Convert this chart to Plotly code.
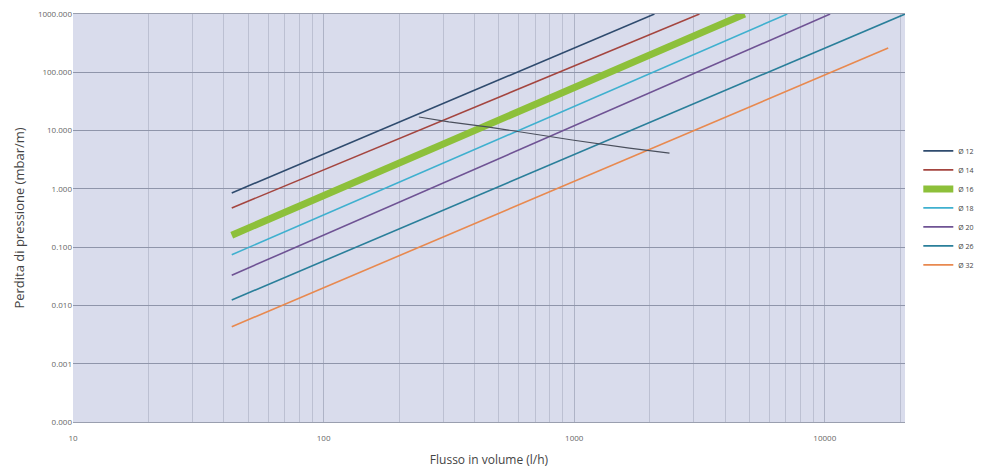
import plotly.graph_objects as go

# ---- data ----
series_names = ["Ø 12", "Ø 14", "Ø 16", "Ø 18", "Ø 20", "Ø 26", "Ø 32"]
flow_12 = [43, 2090]
loss_12 = [0.85, 1000]
flow_14 = [43, 3160]
loss_14 = [0.47, 1000]
flow_16 = [43, 4790]
loss_16 = [0.16, 1000]
flow_18 = [43, 7080]
loss_18 = [0.074, 1000]
flow_20 = [43, 10500]
loss_20 = [0.033, 1000]
flow_26 = [43, 20900]
loss_26 = [0.0124, 1000]
flow_32 = [43, 17900]
loss_32 = [0.0043, 261]

velocity_label = "1 m/s"
velocity_flow = [240, 316, 457, 643, 982, 1660, 2400]
velocity_loss = [17.1, 14.1, 11.5, 9.1, 6.9, 5.0, 4.1]

y_tick_values = [1000, 100, 10, 1, 0.1, 0.01, 0.001, 0.0001]
y_tick_labels = ["1000.000", "100.000", "10.000", "1.000", "0.100", "0.010", "0.001", "0.000"]
x_tick_values = [10, 100, 1000, 10000]
x_tick_labels = ["10", "100", "1000", "10000"]

flows = [flow_12, flow_14, flow_16, flow_18, flow_20, flow_26, flow_32]
losses = [loss_12, loss_14, loss_16, loss_18, loss_20, loss_26, loss_32]
colors = ["#2f4b6e", "#a4453f", "#8dc03a", "#3fb0cf", "#6f5394", "#2a7f9a", "#e8894f"]
widths = [1.6, 1.6, 7, 1.6, 1.6, 1.6, 1.6]

fig = go.Figure()
for name, fx, ly, c, w in zip(series_names, flows, losses, colors, widths):
    fig.add_trace(go.Scatter(x=fx, y=ly, mode="lines", name=name,
                             line=dict(color=c, width=w)))

fig.add_trace(go.Scatter(x=velocity_flow, y=velocity_loss, mode="lines",
                         line=dict(color="#4a4f5c", width=1.2), showlegend=False,
                         hoverinfo="skip"))
fig.add_annotation(x=velocity_flow[0], y=velocity_loss[0], text=velocity_label,
                   showarrow=False, xanchor="right", yanchor="bottom",
                   xshift=-2, yshift=-2, font=dict(size=7, color="#333333"))

fig.update_layout(
    width=982, height=473,
    margin=dict(l=65, r=85, t=6, b=59, autoexpand=False),
    paper_bgcolor="white",
    plot_bgcolor="#d9dcec",
    font=dict(family="Open Sans, Arial, sans-serif", color="#444444"),
    showlegend=True,
    legend=dict(x=1.016, y=0.70, xanchor="left", yanchor="top",
                font=dict(size=7, color="#444444"), tracegroupgap=0,
                itemwidth=30, bgcolor="rgba(0,0,0,0)"),
)
fig.update_xaxes(type="log", range=[1, 4.32],
                 tickvals=x_tick_values, ticktext=x_tick_labels,
                 tickfont=dict(size=8, color="#666666"), ticklabelstandoff=8,
                 showgrid=True, gridcolor="#aeb3c6", gridwidth=1,
                 minor=dict(showgrid=True, gridcolor="#bcc0d2", gridwidth=1, dtick="D1"),
                 showline=True, mirror=True, linecolor="#9a9faf", zeroline=False,
                 ticks="", title=dict(text="Flusso in volume (l/h)",
                                      font=dict(size=12, color="#444444"), standoff=14))
fig.update_yaxes(type="log", range=[-4.0005, 3.0005],
                 tickvals=y_tick_values, ticktext=y_tick_labels,
                 tickfont=dict(size=8, color="#666666"), ticklabeloverflow="allow",
                 showgrid=True, gridcolor="#8f95aa", gridwidth=1.2,
                 showline=False, zeroline=False, ticks="",
                 title=dict(text="Perdita di pressione (mbar/m)",
                            font=dict(size=13, color="#444444"), standoff=10))

fig.write_html("out.html")
